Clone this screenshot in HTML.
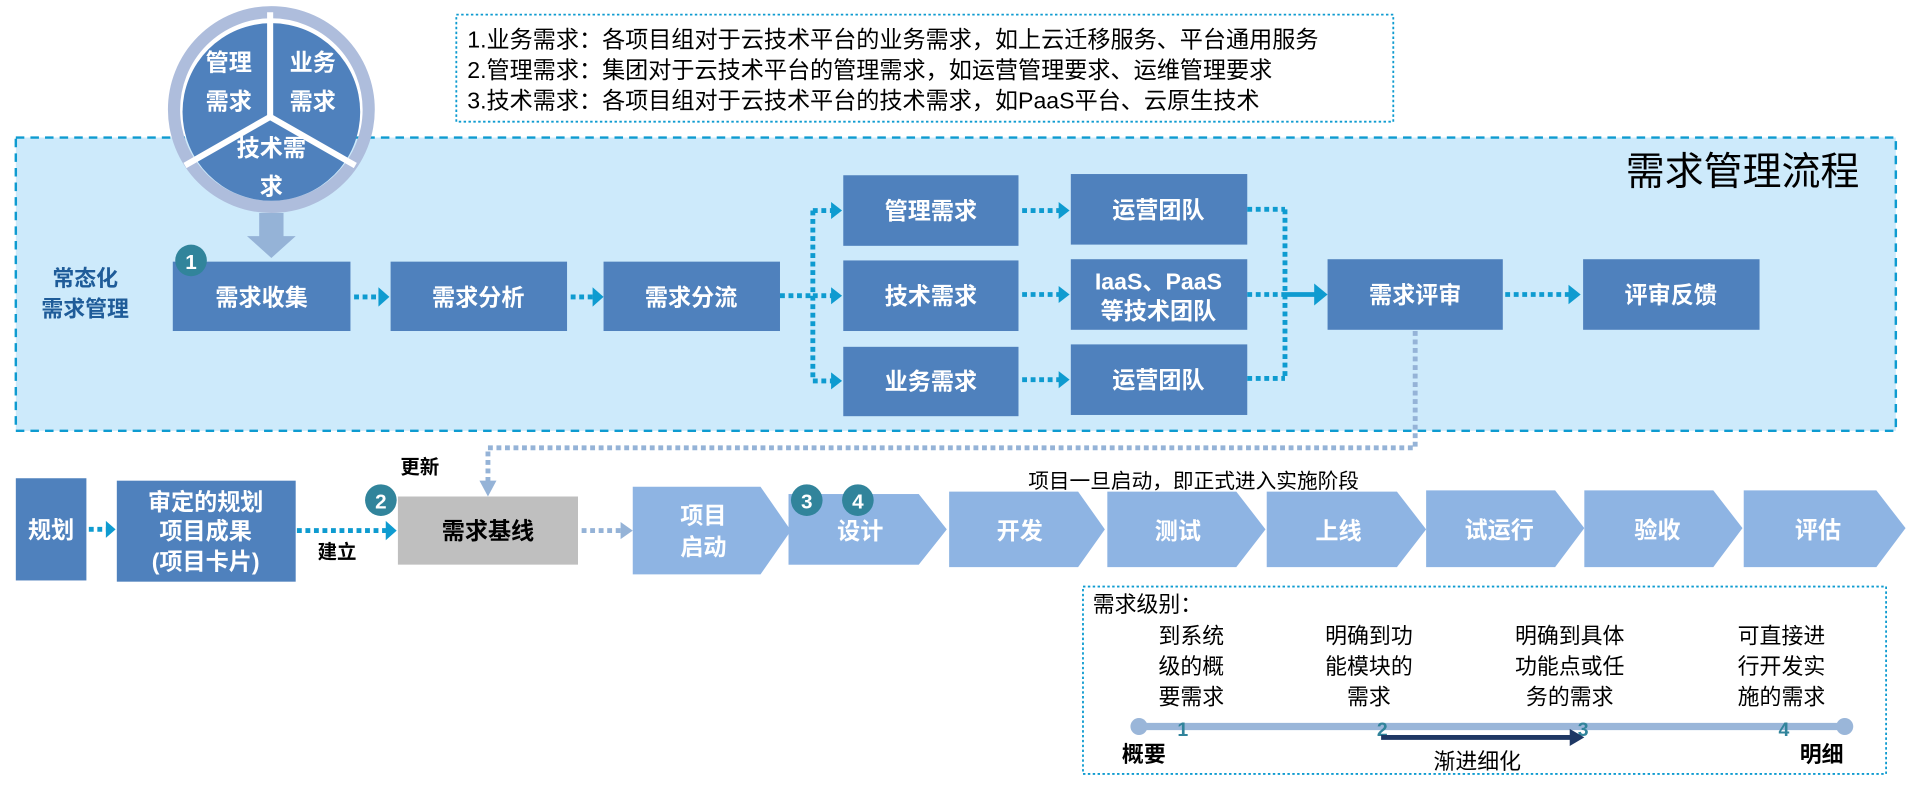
<!DOCTYPE html>
<html><head><meta charset="utf-8"><style>
html,body{margin:0;padding:0;background:#fff;}
svg{display:block;}
text{font-family:"Liberation Sans","Noto Sans CJK SC",sans-serif;}
.w{fill:#fff;font-weight:bold;font-size:19px;text-anchor:middle;}
.b{fill:#4f81bd;}
.dl{stroke:#0e9bd0;stroke-width:4;stroke-dasharray:4 3;fill:none;}
.ll{stroke:#95b3d7;stroke-width:4;stroke-dasharray:4 3;fill:none;}
.ah{fill:#0e9bd0;}
.ch{fill:#8eb4e3;}
</style></head><body>
<svg width="1908" height="791" viewBox="0 0 1568 650" xmlns="http://www.w3.org/2000/svg">
<!-- top text box -->
<rect x="375" y="12" width="770" height="88" fill="#fff" stroke="#0e9bd0" stroke-width="1.5" stroke-dasharray="2 2"/>
<g font-size="19" fill="#000">
<text x="384" y="39">1.业务需求：各项目组对于云技术平台的业务需求，如上云迁移服务、平台通用服务</text>
<text x="384" y="64">2.管理需求：集团对于云技术平台的管理需求，如运营管理要求、运维管理要求</text>
<text x="384" y="89">3.技术需求：各项目组对于云技术平台的技术需求，如PaaS平台、云原生技术</text>
</g>
<!-- big dashed area -->
<rect x="13" y="113" width="1545" height="241" fill="#cdeafb" stroke="#0e9bd0" stroke-width="2" stroke-dasharray="7 5"/>
<text x="1528" y="152" font-size="32" text-anchor="end" fill="#000">需求管理流程</text>
<!-- circle -->
<circle cx="223" cy="90" r="80" fill="none" stroke="#aebddc" stroke-width="10"/>
<circle cx="223" cy="92" r="73" class="b"/>
<g stroke="#fff" stroke-width="5"><line x1="222" y1="96" x2="222" y2="10"/><line x1="222" y1="96" x2="152" y2="136"/><line x1="222" y1="96" x2="292" y2="136"/></g>
<text class="w" x="188" y="58">管理</text><text class="w" x="188" y="90">需求</text>
<text class="w" x="257" y="58">业务</text><text class="w" x="257" y="90">需求</text>
<text class="w" x="223" y="128">技术需</text><text class="w" x="223" y="160">求</text>
<!-- down arrow -->
<polygon points="213,175 233,175 233,194 243,194 223,212 203,194 213,194" fill="#95b3d7"/>
<text x="70" y="235" font-size="18" font-weight="bold" fill="#1f5c99" text-anchor="middle">常态化</text>
<text x="70" y="260" font-size="18" font-weight="bold" fill="#1f5c99" text-anchor="middle">需求管理</text>
<!-- boxes -->
<rect class="b" x="142" y="215" width="146" height="57"/><text class="w" x="215" y="251">需求收集</text>
<rect class="b" x="321" y="215" width="145" height="57"/><text class="w" x="393" y="251">需求分析</text>
<rect class="b" x="496" y="215" width="145" height="57"/><text class="w" x="568" y="251">需求分流</text>
<circle cx="157" cy="214" r="13" fill="#31849b"/><text x="157" y="221" fill="#fff" font-size="17" font-weight="bold" text-anchor="middle">1</text>
<rect class="b" x="693" y="144" width="144" height="58"/><text class="w" x="765" y="180">管理需求</text>
<rect class="b" x="693" y="214" width="144" height="58"/><text class="w" x="765" y="250">技术需求</text>
<rect class="b" x="693" y="285" width="144" height="57"/><text class="w" x="765" y="320">业务需求</text>
<rect class="b" x="880" y="143" width="145" height="58"/><text class="w" x="952" y="179">运营团队</text>
<rect class="b" x="880" y="213" width="145" height="58"/><text class="w" x="952" y="238">IaaS、PaaS</text><text class="w" x="952" y="262">等技术团队</text>
<rect class="b" x="880" y="283" width="145" height="58"/><text class="w" x="952" y="319">运营团队</text>
<rect class="b" x="1091" y="213" width="144" height="58"/><text class="w" x="1163" y="249">需求评审</text>
<rect class="b" x="1301" y="213" width="145" height="58"/><text class="w" x="1373" y="249">评审反馈</text>
<!-- connectors -->
<path class="dl" d="M291 244H312M469 244H488M641 243H668M668 173V313M668 173H684M668 243H684M668 313H684"/>
<polygon class="ah" points="311,236 320,244 311,252"/>
<polygon class="ah" points="487,236 496,244 487,252"/>
<polygon class="ah" points="683,166 692,173 683,180"/>
<polygon class="ah" points="683,236 692,243 683,250"/>
<polygon class="ah" points="683,306 692,313 683,320"/>
<path class="dl" d="M840 173H871M840 242H871M840 312H871"/>
<polygon class="ah" points="870,166 879,173 870,180"/>
<polygon class="ah" points="870,235 879,242 870,249"/>
<polygon class="ah" points="870,305 879,312 870,319"/>
<path class="dl" d="M1025 172H1056M1025 242H1056M1025 311H1056M1056 172V311"/>
<line x1="1056" y1="242" x2="1082" y2="242" stroke="#0e9bd0" stroke-width="4"/>
<polygon class="ah" points="1080,233 1091,242 1080,251"/>
<path class="dl" d="M1237 242H1290"/>
<polygon class="ah" points="1289,234 1299,242 1289,250"/>
<!-- light feedback line -->
<path class="ll" d="M1163 272V368H401V396"/>
<polygon points="394,395 408,395 401,408" fill="#95b3d7"/>
<!-- bottom row -->
<rect class="b" x="13" y="393" width="58" height="84"/><text class="w" x="42" y="442">规划</text>
<path class="dl" d="M73 435H88"/><polygon class="ah" points="87,428 95,435 87,442"/>
<rect class="b" x="96" y="395" width="147" height="83"/>
<text class="w" x="169" y="419">审定的规划</text><text class="w" x="169" y="443">项目成果</text><text class="w" x="169" y="468">(项目卡片)</text>
<path class="dl" d="M244 436H318"/><polygon class="ah" points="317,428 326,436 317,444"/>
<text x="277" y="459" font-size="16" font-weight="bold" text-anchor="middle">建立</text>
<text x="345" y="389" font-size="16" font-weight="bold" text-anchor="middle">更新</text>
<circle cx="313" cy="411" r="13" fill="#31849b"/><text x="313" y="418" fill="#fff" font-size="17" font-weight="bold" text-anchor="middle">2</text>
<rect x="327" y="408" width="148" height="56" fill="#bfbfbf"/>
<text x="401" y="443" font-size="19" font-weight="bold" text-anchor="middle" fill="#000">需求基线</text>
<path class="ll" d="M478 436H511"/><polygon points="510,429 520,436 510,443" fill="#95b3d7"/>
<!-- chevrons -->
<polygon class="ch" points="520,400 625,400 650,436 625,472 520,472"/>
<text class="w" x="578" y="430">项目</text><text class="w" x="578" y="456">启动</text>
<polygon class="ch" points="648,406 755,406 778,435 755,464 648,464 672,435"/>
<polygon class="ch" points="648,406 755,406 778,435 755,464 648,464"/>
<text class="w" x="707" y="443">设计</text>
<circle cx="663" cy="411" r="13" fill="#31849b"/><text x="663" y="418" fill="#fff" font-size="17" font-weight="bold" text-anchor="middle">3</text>
<circle cx="705" cy="411" r="13" fill="#31849b"/><text x="705" y="418" fill="#fff" font-size="17" font-weight="bold" text-anchor="middle">4</text>
<polygon class="ch" points="780,404 886,404 908,435 886,466 780,466"/>
<text class="w" x="838" y="443">开发</text>
<polygon class="ch" points="910,404 1016,404 1040,435 1016,466 910,466"/>
<text class="w" x="968" y="443">测试</text>
<polygon class="ch" points="1041,404 1148,404 1172,435 1148,466 1041,466"/>
<text class="w" x="1100" y="443">上线</text>
<polygon class="ch" points="1172,403 1278,403 1302,434 1278,466 1172,466"/>
<text class="w" x="1232" y="442">试运行</text>
<polygon class="ch" points="1302,403 1408,403 1432,434 1408,466 1302,466"/>
<text class="w" x="1362" y="442">验收</text>
<polygon class="ch" points="1433,403 1542,403 1566,434 1542,466 1433,466"/>
<text class="w" x="1494" y="442">评估</text>
<text x="845" y="401" font-size="17" fill="#000">项目一旦启动，即正式进入实施阶段</text>
<!-- bottom level box -->
<rect x="890" y="482" width="660" height="154" fill="#fff" stroke="#0e9bd0" stroke-width="1.5" stroke-dasharray="2 2"/>
<g font-size="18" fill="#000" text-anchor="middle">
<text x="898" y="503" text-anchor="start">需求级别：</text>
<text x="979" y="529">到系统</text><text x="979" y="554">级的概</text><text x="979" y="579">要需求</text>
<text x="1125" y="529">明确到功</text><text x="1125" y="554">能模块的</text><text x="1125" y="579">需求</text>
<text x="1290" y="529">明确到具体</text><text x="1290" y="554">功能点或任</text><text x="1290" y="579">务的需求</text>
<text x="1464" y="529">可直接进</text><text x="1464" y="554">行开发实</text><text x="1464" y="579">施的需求</text>
</g>
<line x1="936" y1="597" x2="1516" y2="597" stroke="#9ab6d9" stroke-width="6"/>
<circle cx="936" cy="597" r="7" fill="#9ab6d9"/><circle cx="1516" cy="597" r="7" fill="#9ab6d9"/>
<g font-size="16" font-weight="bold" fill="#31849b" text-anchor="middle">
<text x="972" y="605">1</text><text x="1136" y="605">2</text><text x="1301" y="605">3</text><text x="1466" y="605">4</text>
</g>
<line x1="1135" y1="606" x2="1292" y2="606" stroke="#1f3864" stroke-width="4"/>
<polygon points="1290,599 1302,606 1290,613" fill="#1f3864"/>
<text x="940" y="626" font-size="18" font-weight="bold" text-anchor="middle">概要</text>
<text x="1497" y="626" font-size="18" font-weight="bold" text-anchor="middle">明细</text>
<text x="1214" y="632" font-size="18" text-anchor="middle">渐进细化</text>
</svg>
</body></html>
